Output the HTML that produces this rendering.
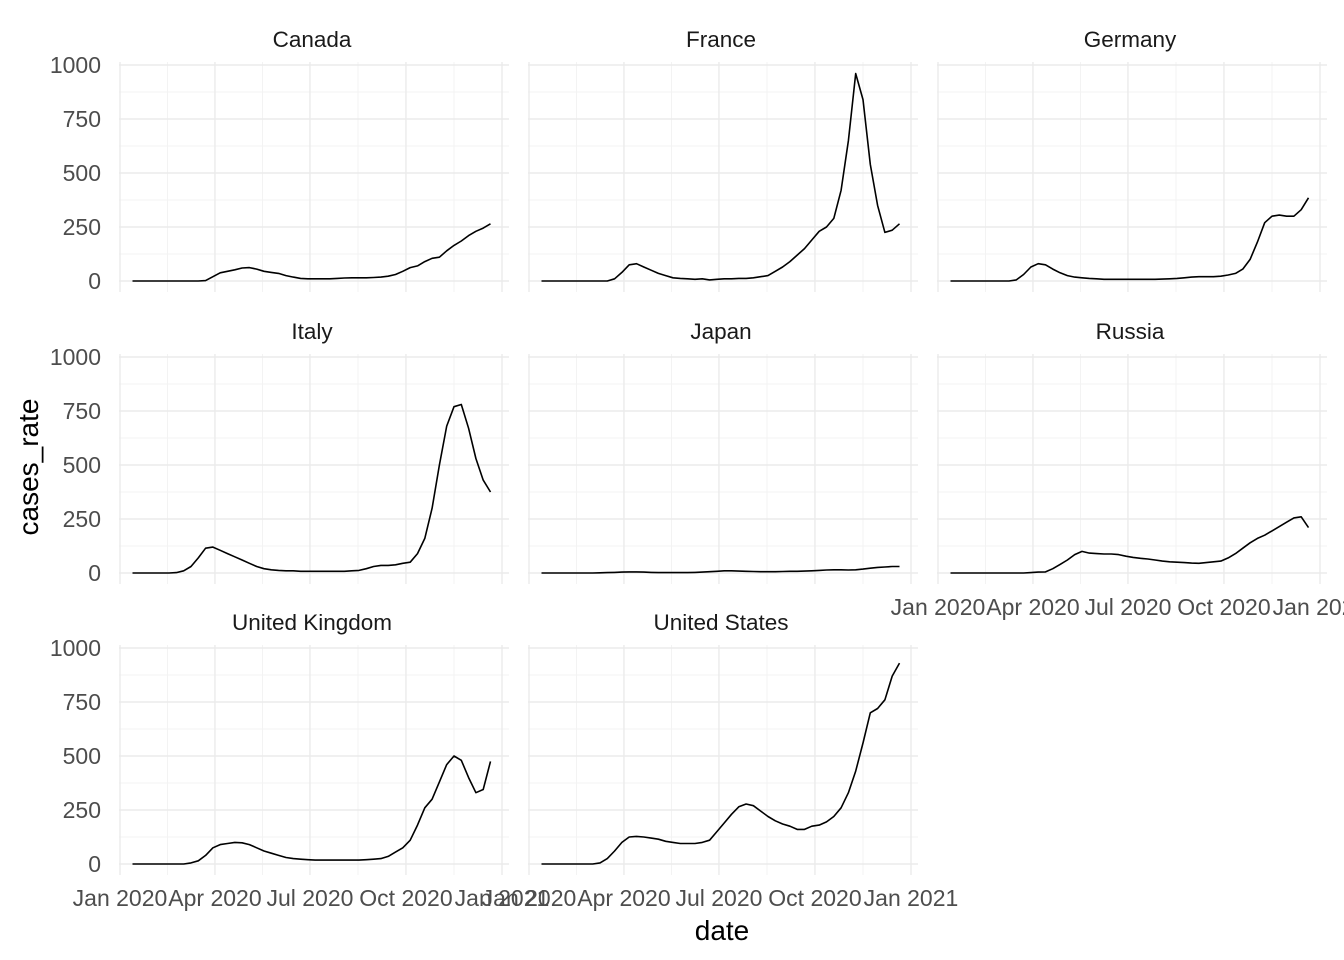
<!DOCTYPE html>
<html><head><meta charset="utf-8"><style>
html,body{margin:0;padding:0;background:#fff;}
svg{display:block;font-family:"Liberation Sans",sans-serif;}
</style></head><body>
<svg id="chart" width="1344" height="960"></svg>
<script>
const days=[12,19,26,33,40,47,54,61,68,75,82,89,96,103,110,117,124,131,138,145,152,159,166,173,180,187,194,201,208,215,222,229,236,243,250,257,264,271,278,285,292,299,306,313,320,327,334,341,348,355];
const canada=[0,0,0,0,0,0,0,0,0,0,2,20,38,45,52,60,62,55,45,40,35,25,18,12,10,10,10,10,12,14,15,15,15,16,18,22,30,45,62,70,90,105,110,140,165,185,210,230,245,265];
const france=[0,0,0,0,0,0,0,0,0,0,10,40,75,80,65,50,35,25,15,12,10,8,10,5,8,10,10,12,12,15,20,25,45,65,90,120,150,190,230,250,290,420,650,960,840,540,350,225,235,265];
const germany=[0,0,0,0,0,0,0,0,0,5,30,65,80,75,55,38,25,18,15,12,10,8,8,8,8,8,8,8,8,9,10,12,15,18,20,20,20,22,28,35,55,100,180,270,300,305,300,300,330,385];
const italy=[0,0,0,0,0,0,2,10,30,70,115,120,105,90,75,60,45,30,20,15,12,10,10,8,8,8,8,8,8,8,10,12,20,30,35,35,38,45,50,90,160,300,500,680,770,780,670,530,430,375];
const japan=[0,0,0,0,0,0,0,0,1,2,3,4,5,5,4,3,2,2,2,2,2,3,4,6,8,10,10,9,8,7,6,6,6,7,8,8,9,10,12,14,15,15,14,15,18,22,26,28,30,30];
const russia=[0,0,0,0,0,0,0,0,0,0,0,2,4,5,20,40,60,85,100,92,90,88,88,85,78,72,68,65,60,55,52,50,48,46,45,48,52,55,70,90,115,140,160,175,195,215,235,255,260,210];
const uk=[0,0,0,0,0,0,0,0,5,15,40,75,90,95,100,98,90,75,60,50,40,30,25,22,20,18,18,18,18,18,18,18,20,22,25,35,55,75,110,180,260,300,380,460,500,480,400,330,345,475];
const us=[0,0,0,0,0,0,0,0,5,25,60,100,125,128,125,120,115,105,100,95,95,95,100,110,150,190,230,265,278,270,245,220,200,185,175,160,160,175,180,195,220,260,330,430,560,700,720,760,870,930];
const names=["Canada","France","Germany","Italy","Japan","Russia","United Kingdom","United States"];
const series=[canada,france,germany,italy,japan,russia,uk,us];
const yTicks=[0,250,500,750,1000];
const xTickDays=[0,91,182,274,366];
const xTickLabels=["Jan 2020","Apr 2020","Jul 2020","Oct 2020","Jan 2021"];

const svg=document.getElementById('chart');
const NS='http://www.w3.org/2000/svg';
function mk(tag,attrs,parent){const e=document.createElementNS(NS,tag);for(const k in attrs)e.setAttribute(k,attrs[k]);(parent||svg).appendChild(e);return e;}
const colL=[119,528,937], PW=390;
const rowTop=[62,354,645], PH=230;
function xs(c,d){return colL[c]+1+d*382/366;}
function ys(r,v){return rowTop[r]+219-v*0.216;}

series.forEach((vals,i)=>{
  const c=i%3,r=Math.floor(i/3);
  const g=mk('g',{});
  
  
  for(let k=0;k<4;k++){const x=(xs(c,xTickDays[k])+xs(c,xTickDays[k+1]))/2;mk('line',{x1:x,x2:x,y1:rowTop[r],y2:rowTop[r]+PH,stroke:'#f3f3f3','stroke-width':1},g);}
  for(let k=0;k<4;k++){const y=ys(r,(yTicks[k]+yTicks[k+1])/2);mk('line',{x1:colL[c],x2:colL[c]+PW,y1:y,y2:y,stroke:'#f3f3f3','stroke-width':1},g);}
  xTickDays.forEach(d=>{const x=xs(c,d);mk('line',{x1:x,x2:x,y1:rowTop[r],y2:rowTop[r]+PH,stroke:'#ebebeb','stroke-width':1.4},g);});
  yTicks.forEach(v=>{const y=ys(r,v);mk('line',{x1:colL[c],x2:colL[c]+PW,y1:y,y2:y,stroke:'#ebebeb','stroke-width':1.4},g);});
  const t=mk('text',{x:colL[c]+PW/2-2,y:rowTop[r]-15,'text-anchor':'middle','font-size':22.5,fill:'#1a1a1a'},g);
  t.textContent=names[i];
  
  
  if(c===0){yTicks.forEach(v=>{const tt=mk('text',{x:101,y:ys(r,v)+8,'text-anchor':'end','font-size':23,fill:'#4d4d4d'});tt.textContent=v;});}
  if(r===2||(r===1&&c===2)){xTickDays.forEach((d,k)=>{const tt=mk('text',{x:xs(c,d),y:rowTop[r]+PH+31,'text-anchor':'middle','font-size':23,fill:'#4d4d4d'});tt.textContent=xTickLabels[k];});}
  const pts=vals.map((v,k)=>xs(c,days[k]).toFixed(1)+','+ys(r,v).toFixed(1)).join(' ');
  const pl=mk('polyline',{points:pts,fill:'none',stroke:'#000','stroke-width':1.6,'stroke-linejoin':'round'},g);
  
  
});
const yl=mk('text',{x:0,y:0,transform:'translate(38,467) rotate(-90)','text-anchor':'middle','font-size':28,fill:'#000'});
yl.textContent='cases_rate';


const xl=mk('text',{x:722,y:940,'text-anchor':'middle','font-size':28,fill:'#000'});
xl.textContent='date';


</script>
</body></html>
